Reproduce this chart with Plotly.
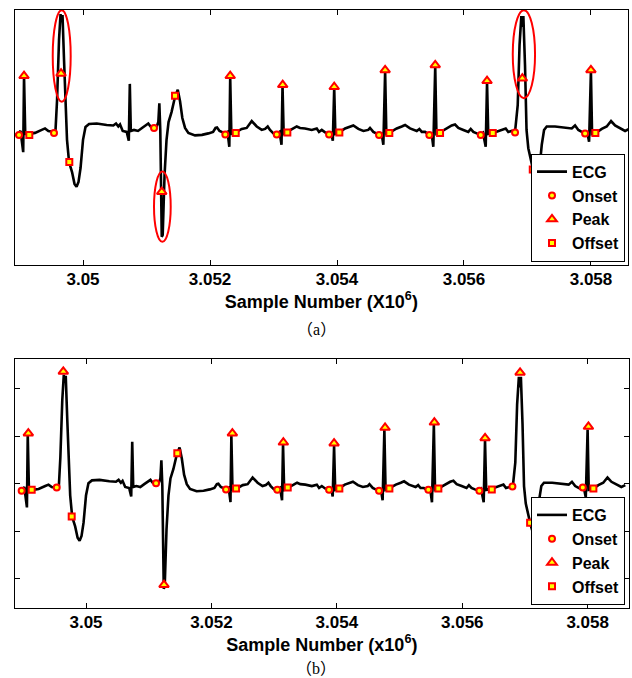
import numpy as np
import plotly.graph_objects as go

# ---------------- data (sample number, amplitude) ----------------
ecg_sample = [
    3048924, 3048976, 3049016, 3049058, 3049071, 3049090, 3049150, 3049244, 3049350, 3049402,
    3049454, 3049535, 3049567, 3049591, 3049622, 3049646, 3049661, 3049677, 3049701, 3049724,
    3049748, 3049780, 3049827, 3049866, 3049898, 3049929, 3049961, 3050000, 3050039, 3050095,
    3050216, 3050373, 3050477, 3050520, 3050556, 3050583, 3050625, 3050688, 3050721, 3050737,
    3050753, 3050803, 3050866, 3050929, 3050984, 3051028, 3051063, 3051118, 3051161, 3051186,
    3051202, 3051217, 3051240, 3051255, 3051284, 3051315, 3051347, 3051394, 3051449, 3051492,
    3051528, 3051564, 3051607, 3051659, 3051764, 3051874, 3051974, 3052048, 3052087, 3052111,
    3052150, 3052189, 3052237, 3052276, 3052304, 3052318, 3052336, 3052405, 3052500, 3052578,
    3052657, 3052736, 3052815, 3052867, 3052909, 3052945, 3052997, 3053056, 3053095, 3053126,
    3053142, 3053160, 3053224, 3053312, 3053366, 3053418, 3053497, 3053602, 3053681, 3053717,
    3053760, 3053812, 3053875, 3053911, 3053934, 3053956, 3053974, 3054037, 3054127, 3054205,
    3054257, 3054336, 3054415, 3054493, 3054520, 3054572, 3054667, 3054701, 3054730, 3054758,
    3054777, 3054835, 3054941, 3055020, 3055072, 3055150, 3055256, 3055297, 3055335, 3055387,
    3055454, 3055489, 3055517, 3055547, 3055566, 3055623, 3055728, 3055807, 3055859, 3055911,
    3055990, 3056068, 3056106, 3056147, 3056201, 3056261, 3056300, 3056342, 3056363, 3056382,
    3056457, 3056541, 3056620, 3056657, 3056698, 3056752, 3056804, 3056846, 3056875, 3056903,
    3056919, 3056935, 3056961, 3056985, 3057013, 3057056, 3057087, 3057119, 3057146, 3057177,
    3057225, 3057261, 3057303, 3057434, 3057592, 3057697, 3057749, 3057801, 3057855, 3057907,
    3057943, 3057970, 3057999, 3058017, 3058091, 3058170, 3058248, 3058316, 3058379, 3058458,
    3058537, 3058600,
]
ecg_amp = [
    -0.15, -0.13, -0.07, -0.50, 1.04, -0.13, -0.13, -0.11, -0.05, -0.02,
    -0.07, -0.09, -0.05, 0.55, 1.77, 2.29, 2.13, 2.27, 1.36, 0.35,
    -0.25, -0.70, -0.90, -1.14, -1.20, -1.10, -0.82, -0.25, 0.01, 0.07,
    0.08, 0.05, 0.04, 0.08, 0.02, 0.06, -0.07, -0.09, -0.27, 0.88,
    -0.07, -0.05, -0.07, -0.01, 0.04, 0.08, 0.02, -0.01, 0.02, 0.11,
    0.49, -0.05, -2.21, -2.17, -0.96, -0.25, 0.11, 0.31, 0.62, 0.76,
    0.53, 0.19, -0.01, -0.11, -0.16, -0.15, -0.12, -0.09, -0.01, 0.00,
    -0.07, -0.09, -0.12, -0.09, -0.39, 1.02, -0.13, -0.10, -0.03, -0.01,
    0.13, 0.02, -0.05, -0.03, 0.02, -0.05, -0.12, -0.13, -0.09, -0.35,
    0.84, -0.13, -0.09, -0.02, 0.02, -0.01, -0.02, -0.05, -0.02, -0.09,
    -0.05, -0.10, -0.13, -0.11, -0.27, 0.80, -0.13, -0.10, -0.02, 0.02,
    0.04, -0.03, -0.07, -0.05, -0.01, -0.09, -0.15, -0.11, -0.35, 1.14,
    -0.13, -0.10, -0.02, 0.02, 0.05, -0.02, -0.07, -0.03, -0.09, -0.09,
    -0.15, -0.11, -0.39, 1.24, -0.13, -0.10, -0.02, 0.04, 0.06, -0.01,
    -0.05, -0.09, -0.03, -0.09, -0.12, -0.15, -0.11, -0.39, 0.92, -0.13,
    -0.11, -0.07, -0.03, -0.02, -0.09, -0.07, -0.09, 0.45, 1.67, 2.25,
    2.03, 2.25, 1.26, -0.05, -0.42, -0.69, -0.85, -1.00, -1.10, -0.98,
    -0.35, -0.05, 0.02, 0.02, 0.00, -0.02, 0.04, -0.05, -0.09, -0.12,
    -0.11, -0.29, 1.14, -0.13, -0.10, -0.03, 0.02, 0.13, 0.04, -0.02,
    -0.07, -0.03,
]

# (a) detections
a_onset_sample = [3048992, 3049543, 3051118, 3052241, 3053051, 3053875, 3054662, 3055454, 3056264, 3056804, 3057907]
a_onset_amp = [-0.15, -0.11, -0.01, -0.14, -0.14, -0.14, -0.15, -0.15, -0.15, -0.10, -0.12]
a_peak_sample = [3049071, 3049654, 3051240, 3052318, 3053145, 3053956, 3054758, 3055547, 3056363, 3056919, 3057999]
a_peak_amp = [1.04, 1.09, -1.30, 1.04, 0.86, 0.82, 1.16, 1.26, 0.94, 0.99, 1.16]
a_offset_sample = [3049154, 3049784, 3051449, 3052405, 3053218, 3054037, 3054824, 3055623, 3056453, 3057083, 3058069]
a_offset_amp = [-0.15, -0.70, 0.64, -0.11, -0.10, -0.10, -0.11, -0.11, -0.11, -0.85, -0.11]

# (b) detections
b_onset_sample = [3048974, 3049533, 3051117, 3052233, 3053051, 3053876, 3054673, 3055460, 3056273, 3056800, 3057922]
b_onset_amp = [-0.15, -0.08, 0.01, -0.12, -0.13, -0.13, -0.15, -0.13, -0.15, -0.06, -0.08]
b_peak_sample = [3049080, 3049638, 3051244, 3052334, 3053147, 3053956, 3054769, 3055555, 3056364, 3056922, 3058012]
b_peak_amp = [1.06, 2.36, -2.13, 1.06, 0.87, 0.85, 1.18, 1.29, 0.96, 2.34, 1.20]
b_offset_sample = [3049134, 3049772, 3051456, 3052393, 3053217, 3054040, 3054838, 3055619, 3056471, 3057082, 3058091]
b_offset_amp = [-0.13, -0.69, 0.64, -0.10, -0.08, -0.10, -0.10, -0.10, -0.12, -0.82, -0.10]

# highlighted (mis-detected) beats in (a): sample0, sample1, amp0, amp1
highlight_regions = [
    (3049523, 3049806, 0.52, 2.37),
    (3051118, 3051381, -2.31, -0.89),
    (3056768, 3057119, 0.59, 2.37),
]

x_tick_vals = [3.05, 3.052, 3.054, 3.056, 3.058]
x_tick_text = ["3.05", "3.052", "3.054", "3.056", "3.058"]
y_tick_vals_b = [-2, -1, 0, 1, 2]

SCALE = 1e6
RED = "#FF0000"
YEL = "#FFFF00"
BOLD = dict(family="Liberation Sans, Arial, sans-serif", size=17, color="black", weight="bold")
LEG_FONT = dict(BOLD, size=16)
CJK = "Noto Sans CJK SC"

def sx(v):
    return np.array(v) / SCALE

fig = go.Figure()

def add_panel(xa, ya, legend, on_s, on_a, pk_s, pk_a, of_s, of_a):
    fig.add_trace(go.Scatter(x=sx(ecg_sample), y=ecg_amp, mode="lines", name="ECG",
                             line=dict(color="black", width=2.6), xaxis=xa, yaxis=ya, legend=legend))
    fig.add_trace(go.Scatter(x=sx(on_s), y=on_a, mode="markers", name="Onset",
                             marker=dict(symbol="circle", size=6, color=YEL, line=dict(color=RED, width=2)),
                             xaxis=xa, yaxis=ya, legend=legend))
    fig.add_trace(go.Scatter(x=sx(pk_s), y=pk_a, mode="markers", name="Peak",
                             marker=dict(symbol="triangle-up", size=8.5, color=YEL, line=dict(color=RED, width=2)),
                             xaxis=xa, yaxis=ya, legend=legend))
    fig.add_trace(go.Scatter(x=sx(of_s), y=of_a, mode="markers", name="Offset",
                             marker=dict(symbol="square", size=6, color=YEL, line=dict(color=RED, width=2)),
                             xaxis=xa, yaxis=ya, legend=legend))

add_panel("x", "y", "legend", a_onset_sample, a_onset_amp, a_peak_sample, a_peak_amp,
          a_offset_sample, a_offset_amp)
add_panel("x2", "y2", "legend2", b_onset_sample, b_onset_amp, b_peak_sample, b_peak_amp,
          b_offset_sample, b_offset_amp)

for s0, s1, a0, a1 in highlight_regions:
    fig.add_shape(type="circle", xref="x", yref="y", x0=s0 / SCALE, x1=s1 / SCALE, y0=a0, y1=a1,
                  line=dict(color=RED, width=2))

W, H = 632, 678
common_x = dict(tickvals=x_tick_vals, ticktext=x_tick_text, ticks="inside", ticklen=5,
                tickcolor="black", showline=True, linecolor="black", linewidth=1, mirror="ticks",
                showgrid=False, zeroline=False, tickfont=BOLD, automargin=False,
                ticklabelstandoff=-1)

legend_style = dict(bgcolor="white", bordercolor="black", borderwidth=1, font=LEG_FONT,
                    xanchor="right", yanchor="bottom", tracegroupgap=0)


def caption(letter):
    return (f"<span style='font-family:{CJK}'>（</span>{letter}"
            f"<span style='font-family:{CJK}'>）</span>")


fig.update_layout(
    width=W, height=H, margin=dict(l=0, r=0, t=0, b=0),
    paper_bgcolor="white", plot_bgcolor="white",
    xaxis=dict(domain=[14.7 / W, 628 / W], range=[3.048924, 3.058583], anchor="y",
               title=dict(text="Sample Number (X10<sup>6</sup>)", font=dict(BOLD, size=18), standoff=0),
               **common_x),
    yaxis=dict(domain=[1 - 265 / H, 1 - 10 / H], range=[-2.779, 2.373], anchor="x",
               showticklabels=False, ticks="", showline=True, linecolor="black", linewidth=1,
               mirror=True, showgrid=False, zeroline=False),
    xaxis2=dict(domain=[14.7 / W, 629 / W], range=[3.048863, 3.058659], anchor="y2",
                title=dict(text="Sample Number (x10<sup>6</sup>)", font=dict(BOLD, size=18), standoff=0),
                **common_x),
    yaxis2=dict(domain=[1 - 607.7 / H, 1 - 359.3 / H], range=[-2.611, 2.619], anchor="x2",
                tickvals=y_tick_vals_b, showticklabels=False, ticks="inside", ticklen=5,
                tickcolor="black", showline=True, linecolor="black", linewidth=1,
                mirror="ticks", showgrid=False, zeroline=False),
    legend=dict(x=625 / W, y=1 - 261.7 / H, **legend_style),
    legend2=dict(x=625 / W, y=1 - 605 / H, **legend_style),
    annotations=[
        dict(text=caption("a"), x=0.5, y=1 - 328 / H, xref="paper", yref="paper", showarrow=False,
             xanchor="center", yanchor="middle",
             font=dict(family="Liberation Serif", size=16, color="black")),
        dict(text=caption("b"), x=0.5, y=1 - 667 / H, xref="paper", yref="paper", showarrow=False,
             xanchor="center", yanchor="middle",
             font=dict(family="Liberation Serif", size=16, color="black")),
    ],
)

fig.write_html("out.html", config={"displayModeBar": False},
               post_script="document.body.style.margin='0';")
